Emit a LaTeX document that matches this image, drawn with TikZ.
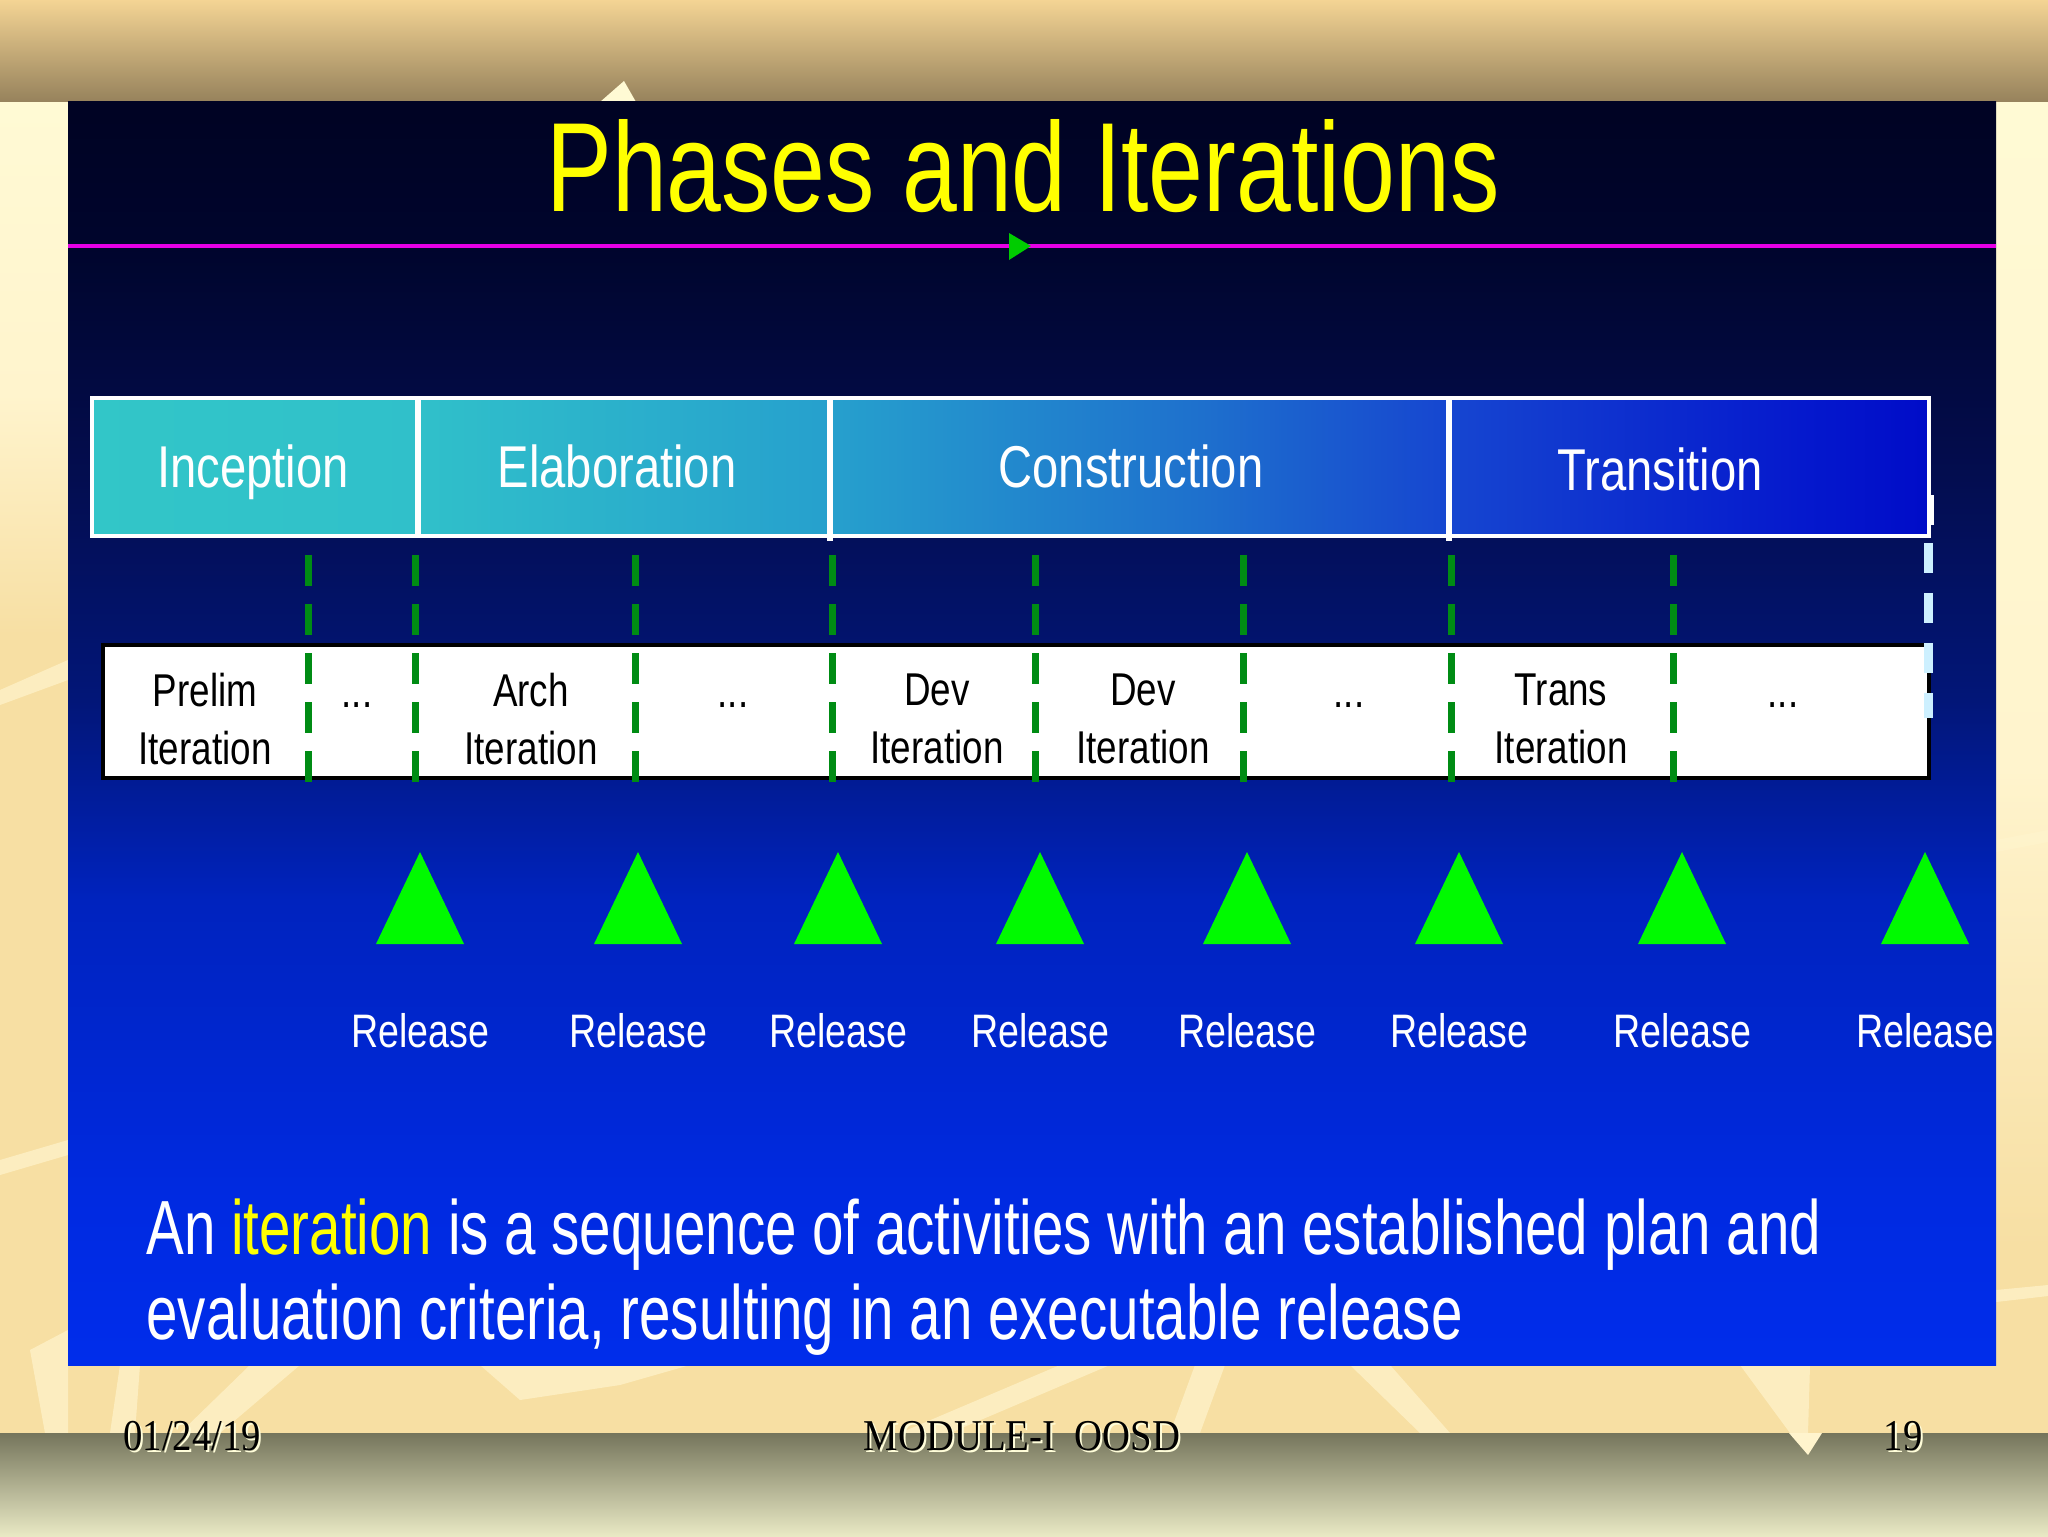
\documentclass[tikz,border=0pt]{standalone}
\usepackage{fontspec}
\newfontfamily\narrowsans[FakeStretch=0.8]{Liberation Sans}
\newfontfamily\titlesans[FakeStretch=0.776]{Liberation Sans}
\newfontfamily\bodysans[FakeStretch=0.736]{Liberation Sans}
\newfontfamily\narrowserif[FakeStretch=0.88]{Liberation Serif}
\definecolor{beige}{RGB}{247,223,163}
\definecolor{cream}{RGB}{255,244,205}
\definecolor{paleyellow}{RGB}{255,250,212}
\definecolor{tbtop}{RGB}{244,212,148}
\definecolor{tbbot}{RGB}{150,130,92}
\definecolor{bbtop}{RGB}{117,117,92}
\definecolor{bbbot}{RGB}{233,233,196}
\definecolor{pA}{RGB}{0,45,235}
\definecolor{pB}{RGB}{0,42,225}
\definecolor{pC}{RGB}{0,35,190}
\definecolor{pD}{RGB}{2,22,120}
\definecolor{pE}{RGB}{3,12,75}
\definecolor{pF}{RGB}{0,5,45}
\definecolor{pG}{RGB}{0,3,35}
\definecolor{hA}{RGB}{50,198,200}
\definecolor{hB}{RGB}{48,192,202}
\definecolor{hC}{RGB}{38,160,205}
\definecolor{hD}{RGB}{30,112,205}
\definecolor{hE}{RGB}{22,70,208}
\definecolor{hF}{RGB}{5,25,205}
\definecolor{hG}{RGB}{0,12,200}
\definecolor{ttlyellow}{RGB}{255,255,0}
\definecolor{magline}{RGB}{230,0,230}
\definecolor{dashgreen}{RGB}{0,140,20}
\definecolor{trigreen}{RGB}{0,250,0}
\definecolor{lightcyan}{RGB}{205,240,255}
\pgfdeclareverticalshading{panelshade}{100bp}{color(0bp)=(pA); color(25bp)=(pA); color(31.6bp)=(pB); color(43.4bp)=(pC); color(51.3bp)=(pD); color(61.2bp)=(pE); color(69.2bp)=(pF); color(75bp)=(pG); color(100bp)=(pG)}
\pgfdeclarehorizontalshading{phaseshade}{100bp}{color(0bp)=(hA); color(25bp)=(hA); color(33.9bp)=(hB); color(45.1bp)=(hC); color(55.2bp)=(hD); color(61.9bp)=(hE); color(71.5bp)=(hF); color(75bp)=(hG); color(100bp)=(hG)}
\pgfdeclareverticalshading{leftmargin}{100bp}{color(0bp)=(beige); color(25bp)=(beige); color(55bp)=(beige); color(64bp)=(cream); color(75bp)=(paleyellow); color(100bp)=(paleyellow)}
\pgfdeclareverticalshading{rightmargin}{100bp}{color(0bp)=(beige); color(25bp)=(beige); color(32bp)=(beige); color(50bp)=(cream); color(75bp)=(paleyellow); color(100bp)=(paleyellow)}
\tikzset{
  ttl/.style={font=\titlesans\fontsize{63.5}{70}\selectfont, text=ttlyellow, inner sep=0pt},
  phaselbl/.style={font=\narrowsans\fontsize{29.5}{36}\selectfont, text=white, inner sep=0pt},
  itlbl/.style={font=\narrowsans\fontsize{23}{29}\selectfont, text=black, align=center, inner sep=0pt},
  rel/.style={font=\narrowsans\fontsize{23.5}{28}\selectfont, text=white, inner sep=0pt},
  bodytxt/.style={font=\bodysans\fontsize{38.4}{42.5}\selectfont, text=white, inner sep=0pt},
  foot/.style={font=\narrowserif\fontsize{22}{26}\selectfont, inner sep=0pt},
  gdash/.style={draw=dashgreen, line width=3.5pt, dash pattern=on 15.5pt off 9pt},
  cdash/.style={draw=lightcyan, line width=4.5pt, dash pattern=on 15pt off 10pt},
  tri/.style={fill=trigreen},
  lightshape/.style={fill=cream, opacity=0.7}
}
\begin{document}
\begin{tikzpicture}[x=0.5pt,y=-0.5pt]
\useasboundingbox (0,0) rectangle (2048,1536);
% background
\fill[beige] (0,0) rectangle (2048,1536);
\shade[shading=leftmargin] (0,102) rectangle (68,1433);
\shade[shading=rightmargin] (1996,102) rectangle (2048,1433);
\fill[lightshape] (0,690) -- (68,660) -- (68,680) -- (0,705) -- cycle;
\fill[lightshape] (0,1160) -- (68,1140) -- (68,1155) -- (0,1175) -- cycle;
\fill[lightshape] (1996,840) -- (2048,830) -- (2048,842) -- (1996,852) -- cycle;
\fill[lightshape] (1996,1290) -- (2048,1285) -- (2048,1296) -- (1996,1302) -- cycle;
\fill[lightshape] (30,1350) -- (68,1330) -- (68,1433) -- (45,1433) -- cycle;
\fill[lightshape] (110,1433) -- (120,1365) -- (140,1365) -- (135,1433) -- cycle;
\fill[lightshape] (180,1433) -- (250,1365) -- (300,1365) -- (220,1433) -- cycle;
\fill[lightshape] (480,1365) -- (520,1400) -- (620,1385) -- (690,1365) -- cycle;
\fill[lightshape] (900,1433) -- (1060,1365) -- (1110,1365) -- (950,1433) -- cycle;
\fill[lightshape] (1170,1433) -- (1195,1365) -- (1225,1365) -- (1200,1433) -- cycle;
\fill[lightshape] (1350,1365) -- (1390,1365) -- (1450,1433) -- (1420,1433) -- cycle;
\fill[lightshape] (1740,1365) -- (1810,1365) -- (1808,1433) -- (1790,1433) -- cycle;
% top band
\fill[top color=tbtop, bottom color=tbbot] (0,0) rectangle (2048,102);
\fill[paleyellow] (600,102) -- (624,81) -- (636,102) -- cycle;
% bottom band
\fill[top color=bbtop, bottom color=bbbot] (0,1433) rectangle (2048,1536);
\fill[cream] (1789,1433) -- (1808,1455) -- (1822,1433) -- cycle;
% panel
\shade[shading=panelshade] (68,102) rectangle (1996,1365);
% title
\node[ttl, anchor=base] (title) at (1023,211) {Phases and Iterations};
\draw[magline, line width=2pt] (68,246) -- (1996,246);
\fill[green!80!black] (1009,233) -- (1031,246) -- (1009,260) -- cycle;
% phase bar
\shade[shading=phaseshade] (92,398) rectangle (1929,536);
\draw[white, line width=1.6pt] (92,398) rectangle (1929,536);
\draw[white, line width=3pt] (418,398) -- (418,538);
\draw[white, line width=3pt] (830,398) -- (830,541);
\draw[white, line width=3pt] (1449,398) -- (1449,541);
\draw[white, line width=1.5pt] (1932,495) -- (1932,525);
\node[phaselbl, anchor=base] (inception) at (253,487) {Inception};
\node[phaselbl, anchor=base] (elaboration) at (617,487) {Elaboration};
\node[phaselbl, anchor=base] (construction) at (1131,487) {Construction};
\node[phaselbl, anchor=base] (transition) at (1660,490) {Transition};
% iteration bar
\draw[black, fill=white, line width=1.6pt] (103,645) rectangle (1929,778);
\node[itlbl] (prelim) at (205,719) {Prelim\\Iteration};
\node[itlbl, anchor=base] (dots1) at (357,707) {...};
\node[itlbl] (arch) at (531,719) {Arch\\Iteration};
\node[itlbl, anchor=base] (dots2) at (733,707) {...};
\node[itlbl] (dev1) at (937,719) {Dev\\Iteration};
\node[itlbl] (dev2) at (1143,719) {Dev\\Iteration};
\node[itlbl, anchor=base] (dots3) at (1349,707) {...};
\node[itlbl] (trans) at (1561,719) {Trans\\Iteration};
\node[itlbl, anchor=base] (dots4) at (1783,707) {...};
% dashed separators
\foreach \xx in {308,415,635,832,1035,1243,1451,1673}
  \draw[gdash] (\xx,555) -- (\xx,782);
\draw[cdash] (1928,543) -- (1928,718);
% release triangles and labels
\foreach \xx/\nm in {420/r1,638/r2,838/r3,1040/r4,1247/r5,1459/r6,1682/r7,1925/r8}{
  \fill[tri] (\xx,852) -- (\xx+44,944) -- (\xx-44,944) -- cycle;
  \node[rel, anchor=base] (\nm) at (\xx,1047) {Release};
}
% bottom text
\node[bodytxt, anchor=base west] (line1) at (146,1254) {An \textcolor{ttlyellow}{iteration} is a sequence of activities with an established plan and};
\node[bodytxt, anchor=base west] (line2) at (146,1339) {evaluation criteria, resulting in an executable release};
% footer
\node[foot, anchor=base west, text=white!85!yellow] at (125,1452) {01/24/19};
\node[foot, anchor=base west] (date) at (123,1450) {01/24/19};
\node[foot, anchor=base, text=white!85!yellow] at (1024,1452) {MODULE-I\ \ OOSD};
\node[foot, anchor=base] (module) at (1022,1450) {MODULE-I\ \ OOSD};
\node[foot, anchor=base east, text=white!85!yellow] at (1925,1452) {19};
\node[foot, anchor=base east] (page) at (1923,1450) {19};
\end{tikzpicture}
\end{document}
